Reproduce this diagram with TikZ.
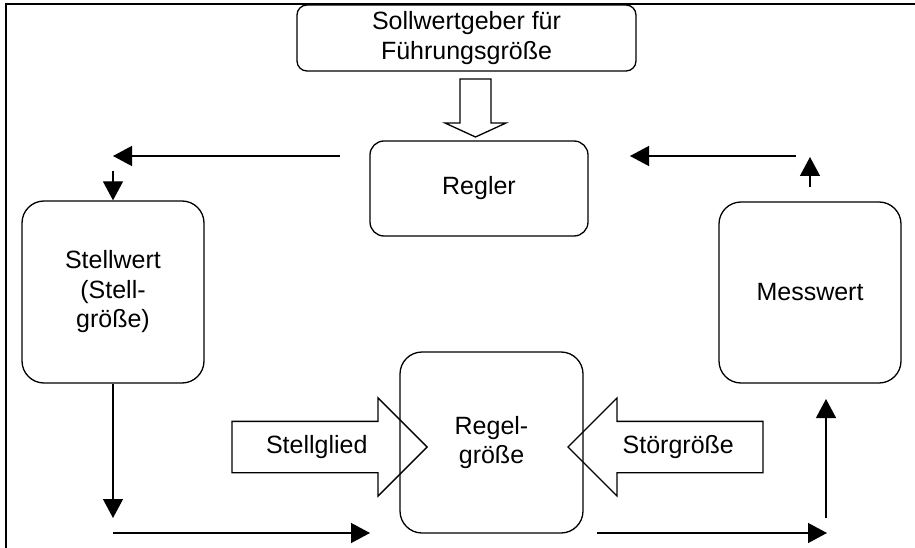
\documentclass[tikz,border=0pt]{standalone}
\usepackage{fontspec}
\setmainfont{Liberation Sans}
\usetikzlibrary{arrows.meta,shapes.arrows}
\begin{document}
\begin{tikzpicture}[x=1pt,y=-1pt,
				font=\fontsize{25}{29.5}\selectfont,
				box/.style={draw,line width=1.3pt,align=center,inner sep=0pt},
				flow/.style={line width=1.3pt,-{Triangle[length=19pt,width=20pt]}},
				blockarrow/.style={draw,line width=1.3pt,single arrow,single arrow head extend=23.5pt,
					text height=18pt,text depth=5pt,inner ysep=13.5pt,minimum height=195pt}]
\useasboundingbox (0,0) rectangle (915,548);
\draw[line width=2.5pt] (6,548) -- (6,4) -- (915,4);
\node[box,rounded corners=10pt,minimum width=339pt,minimum height=66pt] (soll) at (466.5,38) {Sollwertgeber für\\Führungsgröße};
\node[box,rounded corners=14pt,minimum width=218pt,minimum height=95pt] (regler) at (479,188.5) {Regler};
\node[box,rounded corners=22pt,minimum width=182pt,minimum height=182pt] (stellwert) at (113,292) {Stellwert\\(Stell-\\größe)};
\node[box,rounded corners=22pt,minimum width=183pt,minimum height=181pt] (regelgr) at (491.5,442.5) {Regel-\\größe};
\node[box,rounded corners=22pt,minimum width=182pt,minimum height=181pt] (messwert) at (810,292.5) {Messwert};
\node[blockarrow,anchor=tip] (stellglied) at (428,447) {Stellglied};
\node[blockarrow,shape border rotate=180,anchor=tip] (stoer) at (567,447) {Störgröße};
\coordinate (hol) at (475.5,79);
\draw[line width=1.3pt] (hol) ++(-15.5,0) -- ++(31,0) -- ++(0,44) -- ++(15,0) -- ++(-30.5,14) -- ++(-30.5,-14) -- ++(15,0) -- cycle;
\coordinate (r1) at (340,156);
\coordinate (r2) at (113,156);
\coordinate (s1) at (113,171);
\coordinate (s2) at (113,518);
\coordinate (b1) at (113,533);
\coordinate (b2) at (370,533);
\coordinate (b3) at (597,533);
\coordinate (b4) at (827,533);
\coordinate (m1) at (826,518);
\coordinate (m2) at (826,399);
\coordinate (m3) at (810,187);
\coordinate (m4) at (810,157);
\coordinate (t1) at (796,156);
\coordinate (t2) at (630,156);
\draw[flow] (r1) -- (r2);
\draw[flow] (s1) -- (stellwert.north);
\draw[flow] (stellwert.south) -- (s2);
\draw[flow] (b1) -- (b2);
\draw[flow] (b3) -- (b4);
\draw[flow] (m1) -- (m2);
\draw[flow] (m3) -- (m4);
\draw[flow] (t1) -- (t2);
\end{tikzpicture}
\end{document}
